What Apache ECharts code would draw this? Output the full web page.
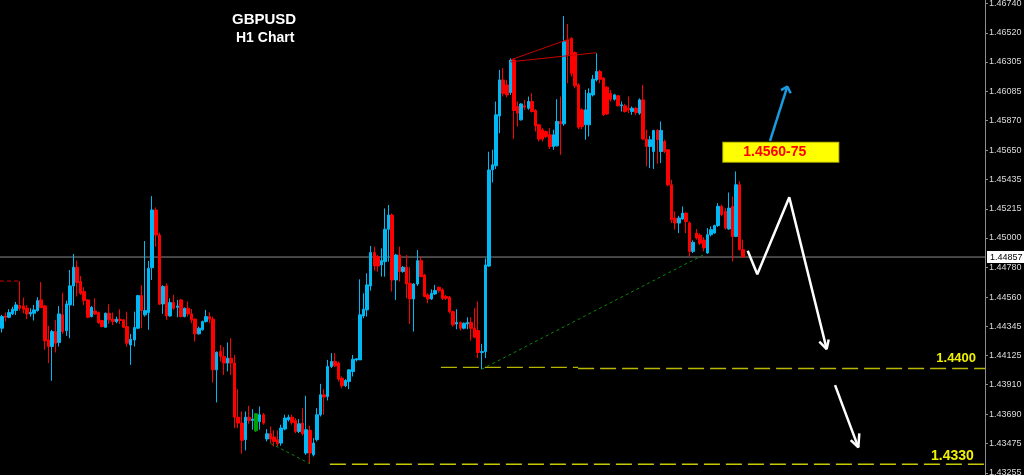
<!DOCTYPE html>
<html>
<head>
<meta charset="utf-8">
<script src="https://cdn.jsdelivr.net/npm/echarts@6/dist/echarts.min.js"></script>
<style>
html,body{margin:0;padding:0;background:#000;}
#chart{width:1024px;height:475px;}
</style>
</head>
<body>
<div id="chart"></div>
<script>
// ---- DATA ----
const symbolName = 'GBPUSD';
const timeframe = 'H1 Chart';
const slotCount = 275; // bar slots incl. right chart shift
// [open, close, low, high]
const candles = [
[1.44329,1.44415,1.44297,1.44428],[1.44420,1.44410,1.44378,1.44445],[1.44410,1.44445,1.44403,1.44470],[1.44435,1.44470,1.44428,1.44489],
[1.44460,1.44502,1.44428,1.44524],[1.44497,1.44477,1.44460,1.44679],[1.44494,1.44470,1.44440,1.44556],[1.44477,1.44435,1.44396,1.44499],
[1.44435,1.44447,1.44415,1.44477],[1.44440,1.44465,1.44386,1.44502],[1.44460,1.44534,1.44452,1.44559],[1.44539,1.44482,1.44477,1.44672],
[1.44494,1.44235,1.44168,1.44502],[1.44242,1.44193,1.44070,1.44346],[1.44193,1.44304,1.43939,1.44317],[1.44304,1.44218,1.44149,1.44391],
[1.44223,1.44435,1.44193,1.44494],[1.44428,1.44304,1.44287,1.44593],[1.44311,1.44509,1.44272,1.44534],[1.44502,1.44643,1.44255,1.44761],
[1.44643,1.44781,1.44494,1.44880],[1.44781,1.44667,1.44564,1.44830],[1.44675,1.44588,1.44576,1.44717],[1.44601,1.44534,1.44502,1.44633],
[1.44539,1.44410,1.44403,1.44544],[1.44415,1.44484,1.44410,1.44494],[1.44457,1.44435,1.44428,1.44551],[1.44445,1.44371,1.44361,1.44452],
[1.44386,1.44341,1.44336,1.44391],[1.44336,1.44440,1.44336,1.44445],[1.44440,1.44391,1.44361,1.44507],[1.44396,1.44378,1.44351,1.44445],
[1.44378,1.44396,1.44366,1.44415],[1.44396,1.44386,1.44361,1.44470],[1.44391,1.44336,1.44329,1.44396],[1.44341,1.44218,1.44193,1.44452],
[1.44205,1.44247,1.44057,1.44287],[1.44242,1.44334,1.44193,1.44452],[1.44329,1.44571,1.44322,1.44576],[1.44571,1.44460,1.44329,1.44648],
[1.44428,1.44460,1.44415,1.44976],[1.44445,1.44774,1.44317,1.44828],[1.44778,1.45206,1.44687,1.45309],[1.45206,1.45020,1.44934,1.45225],
[1.45020,1.44507,1.44502,1.45038],[1.44509,1.44638,1.44435,1.44648],[1.44643,1.44420,1.44391,1.44662],[1.44420,1.44519,1.44415,1.44551],
[1.44519,1.44477,1.44465,1.44576],[1.44484,1.44494,1.44410,1.44539],[1.44539,1.44415,1.44410,1.44546],[1.44415,1.44477,1.44410,1.44482],
[1.44477,1.44435,1.44415,1.44527],[1.44435,1.44391,1.44366,1.44472],[1.44396,1.44287,1.44230,1.44403],[1.44287,1.44329,1.44280,1.44341],
[1.44317,1.44378,1.44312,1.44386],[1.44378,1.44415,1.44371,1.44465],[1.44415,1.44396,1.44366,1.44447],[1.44396,1.44020,1.43926,1.44415],
[1.44020,1.44151,1.43778,1.44156],[1.44156,1.44119,1.44082,1.44205],[1.44119,1.44070,1.43983,1.44188],[1.44070,1.44107,1.44008,1.44223],
[1.44107,1.44070,1.43983,1.44255],[1.44070,1.43669,1.43588,1.44131],[1.43669,1.43625,1.43588,1.43877],[1.43625,1.43497,1.43398,1.43711],
[1.43502,1.43669,1.43422,1.43711],[1.43669,1.43645,1.43620,1.43753],[1.43645,1.43655,1.43576,1.43729],[1.43694,1.43568,1.43560,1.43700],
[1.43637,1.43687,1.43576,1.43748],[1.43687,1.43625,1.43613,1.43699],[1.43507,1.43546,1.43489,1.43581],[1.43546,1.43507,1.43477,1.43600],
[1.43521,1.43489,1.43452,1.43571],[1.43502,1.43472,1.43452,1.43571],[1.43477,1.43588,1.43457,1.43613],[1.43581,1.43662,1.43571,1.43687],
[1.43650,1.43669,1.43637,1.43687],[1.43669,1.43630,1.43613,1.43687],[1.43645,1.43563,1.43551,1.43662],[1.43563,1.43620,1.43551,1.43655],
[1.43625,1.43546,1.43531,1.43736],[1.43403,1.43576,1.43390,1.43828],[1.43571,1.43403,1.43324,1.43605],[1.43390,1.43477,1.43378,1.43514],
[1.43502,1.43687,1.43489,1.43736],[1.43687,1.43835,1.43674,1.43916],[1.43835,1.43818,1.43687,1.43877],[1.43823,1.44045,1.43793,1.44094],
[1.44045,1.44082,1.44033,1.44144],[1.44082,1.44050,1.44040,1.44144],[1.44070,1.43951,1.43934,1.44082],[1.43958,1.43902,1.43884,1.43971],
[1.43902,1.43941,1.43892,1.43951],[1.43934,1.44020,1.43877,1.44025],[1.44008,1.44099,1.43971,1.44131],[1.44094,1.44102,1.44082,1.44107],
[1.44094,1.44428,1.44094,1.44692],[1.44420,1.44470,1.44403,1.44588],[1.44465,1.44650,1.44415,1.44737],[1.44643,1.44890,1.44608,1.44939],
[1.44890,1.44791,1.44756,1.44934],[1.44860,1.44791,1.44749,1.44872],[1.44798,1.44830,1.44712,1.44922],[1.44823,1.45063,1.44712,1.45218],
[1.45063,1.45169,1.44823,1.45243],[1.45169,1.44687,1.44601,1.45181],[1.44687,1.44872,1.44539,1.44880],[1.44872,1.44749,1.44675,1.44934],
[1.44749,1.44781,1.44741,1.44791],[1.44781,1.44657,1.44551,1.44872],[1.44662,1.44546,1.44361,1.44781],[1.44546,1.44657,1.44304,1.44662],
[1.44657,1.44830,1.44643,1.44909],[1.44830,1.44712,1.44707,1.44860],[1.44724,1.44564,1.44559,1.44732],[1.44576,1.44546,1.44514,1.44588],
[1.44546,1.44588,1.44539,1.44618],[1.44583,1.44608,1.44576,1.44650],[1.44633,1.44608,1.44593,1.44638],[1.44613,1.44551,1.44539,1.44625],
[1.44564,1.44551,1.44539,1.44576],[1.44559,1.44452,1.44440,1.44568],[1.44452,1.44354,1.44341,1.44460],[1.44361,1.44371,1.44321,1.44470],
[1.44371,1.44329,1.44312,1.44378],[1.44329,1.44366,1.44321,1.44371],[1.44361,1.44371,1.44321,1.44410],[1.44371,1.44329,1.44237,1.44410],
[1.44329,1.44262,1.44255,1.44477],[1.44312,1.44149,1.44107,1.44527],[1.44149,1.44156,1.44025,1.44213],[1.44156,1.44798,1.44107,1.44847],
[1.44790,1.45503,1.44783,1.45638],[1.45504,1.45541,1.45410,1.45653],[1.45534,1.45912,1.45510,1.46011],[1.45904,1.46171,1.45776,1.46245],
[1.46171,1.46072,1.46048,1.46258],[1.46134,1.46060,1.46043,1.46171],[1.46077,1.46319,1.46060,1.46332],[1.46319,1.45944,1.45732,1.46332],
[1.45974,1.45924,1.45825,1.46011],[1.45875,1.45993,1.45870,1.45998],[1.45979,1.45969,1.45949,1.46023],[1.45961,1.46011,1.45949,1.46048],
[1.46011,1.45937,1.45929,1.46072],[1.45944,1.45830,1.45788,1.45954],[1.45838,1.45732,1.45714,1.45845],[1.45801,1.45732,1.45714,1.45813],
[1.45788,1.45751,1.45739,1.45796],[1.45764,1.45677,1.45658,1.45813],[1.45677,1.45764,1.45653,1.45801],[1.45682,1.45863,1.45677,1.46028],
[1.45863,1.45845,1.45615,1.46048],[1.45845,1.46455,1.45830,1.46645],[1.46468,1.46356,1.46146,1.46586],[1.46480,1.46221,1.46196,1.46487],
[1.46374,1.46127,1.46109,1.46381],[1.46134,1.45820,1.45806,1.46146],[1.45949,1.45825,1.45806,1.45961],[1.45838,1.45949,1.45727,1.46097],
[1.45838,1.46072,1.45751,1.46109],[1.46060,1.46176,1.46048,1.46208],[1.46171,1.46233,1.46159,1.46369],[1.46233,1.46176,1.46146,1.46245],
[1.46184,1.45912,1.45904,1.46191],[1.46117,1.45919,1.45912,1.46127],[1.46072,1.46028,1.46011,1.46097],[1.46028,1.46060,1.46018,1.46068],
[1.46053,1.45979,1.45974,1.46060],[1.45979,1.45986,1.45937,1.46011],[1.45979,1.45937,1.45929,1.45993],[1.45961,1.45949,1.45924,1.46048],
[1.45937,1.45961,1.45912,1.45974],[1.45961,1.45929,1.45912,1.45969],[1.45924,1.46023,1.45912,1.46035],[1.46023,1.45732,1.45727,1.46134],
[1.45732,1.45677,1.45529,1.45801],[1.45677,1.45727,1.45517,1.45756],[1.45640,1.45796,1.45510,1.45801],[1.45796,1.45727,1.45549,1.45806],
[1.45640,1.45796,1.45554,1.45863],[1.45714,1.45640,1.45628,1.45727],[1.45653,1.45393,1.45381,1.45658],[1.45393,1.45134,1.45109,1.45430],
[1.45146,1.45109,1.45060,1.45196],[1.45109,1.45146,1.45035,1.45163],[1.45139,1.45183,1.45134,1.45233],[1.45183,1.45121,1.45035,1.45188],
[1.45110,1.44899,1.44862,1.45121],[1.44899,1.44966,1.44887,1.44981],[1.45035,1.44998,1.44986,1.45065],[1.45020,1.44959,1.44946,1.45033],
[1.44983,1.44924,1.44899,1.45004],[1.44887,1.45023,1.44882,1.45072],[1.45023,1.45060,1.45010,1.45084],[1.45035,1.45090,1.45030,1.45097],
[1.45090,1.45233,1.45080,1.45257],[1.45233,1.45171,1.45159,1.45245],[1.45196,1.45072,1.45060,1.45220],[1.45065,1.45220,1.45060,1.45336],
[1.45233,1.45010,1.44825,1.45307],[1.45010,1.45393,1.45005,1.45492],[1.45393,1.44912,1.44907,1.45418],[1.44912,1.44857,1.44857,1.44986]
];
const greenCandles = [71];
const lastPrice = 1.44857;
const priceTicks = [1.46740,1.46520,1.46305,1.46085,1.45870,1.45650,1.45435,1.45215,1.45000,1.44780,1.44560,1.44345,1.44125,1.43910,1.43690,1.43475,1.43255];
const yMin = 1.4324, yMax = 1.46764;

// annotations: [bar position, price]
const redDashLeft = [[-0.5,1.44679],[5,1.44679]];
const redLineA = [[142,1.46319],[159,1.46480]];
const redLineB = [[142,1.46305],[166,1.46373]];
const greenDotLow = [[75,1.43475],[86,1.43324]];
const greenDotRise = [[134,1.44025],[195.8,1.44872]];
const level1440a = [[122.6,1.44039],[160.9,1.44039]];
const level1440b = [[160.9,1.44030],[274.5,1.44030]];
const level1433 = [[91.6,1.43319],[274.5,1.43319]];
const whitePath = [[208.25,1.44904],[210.93,1.44729],[219.86,1.45300],[230.3,1.44174]];
const whiteHead1 = [[228.24,1.44229],[230.3,1.44174],[230.86,1.44246]];
const whiteArrow2 = [[232.63,1.43907],[239.13,1.43445]];
const whiteHead2 = [[237.01,1.43499],[239.13,1.43445],[239.41,1.43549]];
const blueArrow = [[214.48,1.45718],[219.3,1.46121]];
const blueHead = [[217.55,1.46096],[219.3,1.46121],[220.26,1.46072]];
const targetBox = {text:'1.4560-75', at:[217.49,1.45635]};
const levelLabels = [{text:'1.4400', at:[272.0,1.44105], size:13},{text:'1.4330', at:[271.4,1.43383], size:14}];

// ---- CHART ----
const categories = Array.from({length: slotCount}, (_, i) => String(i));
const candleData = candles.map((c, i) => greenCandles.includes(i)
  ? {value: c, itemStyle:{color:'#00a000',color0:'#00a000',borderColor:'#00a000',borderColor0:'#00a000'}}
  : c);
const FONT = 'Liberation Sans, Arial, sans-serif';

function lineSeries(data, color, width, type) {
  return {type:'line', xAxisIndex:1, yAxisIndex:0, data, symbol:'none', silent:true,
    lineStyle:{color, width, type: type || 'solid'}, z:5, animation:false};
}

const priceLine = lineSeries([[-0.5,lastPrice],[slotCount-0.5,lastPrice]], '#8c8c8c', 1);
priceLine.z = 2;
priceLine.clip = false;
priceLine.endLabel = {show:true, formatter:lastPrice.toFixed(5), backgroundColor:'#ffffff', color:'#000000',
  fontSize:9, fontFamily:FONT, padding:[2,3,1,3], distance:2};

const chart = echarts.init(document.getElementById('chart'), null, {renderer:'canvas'});
chart.setOption({
  backgroundColor:'#000000',
  animation:false,
  title:[
    {text:symbolName, left:232, top:12, padding:0, textStyle:{color:'#ffffff', fontSize:15, fontWeight:'bold', fontFamily:FONT}},
    {text:timeframe, left:236, top:31, padding:0, textStyle:{color:'#ffffff', fontSize:14, fontWeight:'bold', fontFamily:FONT}}
  ],
  grid:{left:0, right:39, top:0, bottom:0, containLabel:false, outerBoundsMode:'none'},
  xAxis:[
    {type:'category', data:categories, boundaryGap:true, show:false},
    {type:'value', min:-0.5, max:slotCount-0.5, show:false}
  ],
  yAxis:{
    type:'value', position:'right', min:yMin, max:yMax, scale:true,
    axisLine:{show:true, onZero:false, lineStyle:{color:'#8c8c8c', width:1}},
    axisTick:{show:true, length:3, customValues:priceTicks, lineStyle:{color:'#8c8c8c'}},
    axisLabel:{show:true, customValues:priceTicks, margin:4, color:'#dcdcdc', fontSize:9,
      fontFamily:FONT, formatter:v => v.toFixed(5)},
    splitLine:{show:false}
  },
  series:[
    priceLine,
    {
      type:'candlestick', xAxisIndex:0, yAxisIndex:0, data:candleData, barWidth:3,
      itemStyle:{color:'#00b8f4', color0:'#ff0000', borderColor:'#00b8f4', borderColor0:'#ff0000', borderWidth:1},
      z:3
    },
    lineSeries(redDashLeft, '#d00000', 1, [4,3]),
    lineSeries(redLineA, '#c80000', 1),
    lineSeries(redLineB, '#c80000', 1),
    lineSeries(greenDotLow, '#0a8a0a', 1, [3,3]),
    lineSeries(greenDotRise, '#0a8a0a', 1, [3,3]),
    lineSeries(level1440a, '#e0e000', 1, [16,6]),
    lineSeries(level1440b, '#b8b800', 1.5, [16,6]),
    lineSeries(level1433, '#c8c800', 1.5, [16,6]),
    lineSeries(whitePath, '#ffffff', 2.5),
    lineSeries(whiteHead1, '#ffffff', 2.5),
    lineSeries(whiteArrow2, '#ffffff', 2.5),
    lineSeries(whiteHead2, '#ffffff', 2.5),
    lineSeries(blueArrow, '#1a9ae0', 2.5),
    lineSeries(blueHead, '#1a9ae0', 2.5),
    {
      type:'scatter', xAxisIndex:1, yAxisIndex:0, silent:true, symbolSize:1, itemStyle:{color:'rgba(0,0,0,0)', opacity:1},
      data:[targetBox.at], z:10,
      label:{show:true, position:'inside', formatter:targetBox.text, color:'#ff0000', fontSize:14, fontWeight:'bold',
        fontFamily:FONT, backgroundColor:'#ffff00', borderColor:'#b0b000', borderWidth:1,
        padding:[3,32,2,20], lineHeight:14}
    },
    {
      type:'scatter', xAxisIndex:1, yAxisIndex:0, silent:true, symbolSize:1, itemStyle:{color:'rgba(0,0,0,0)', opacity:1},
      data:levelLabels.map(l => ({value:l.at, label:{formatter:l.text, fontSize:l.size}})), z:10,
      label:{show:true, position:'inside', align:'right', verticalAlign:'middle', color:'#f0f000', fontWeight:'bold',
        fontFamily:FONT}
    }
  ]
});
</script>
</body>
</html>
